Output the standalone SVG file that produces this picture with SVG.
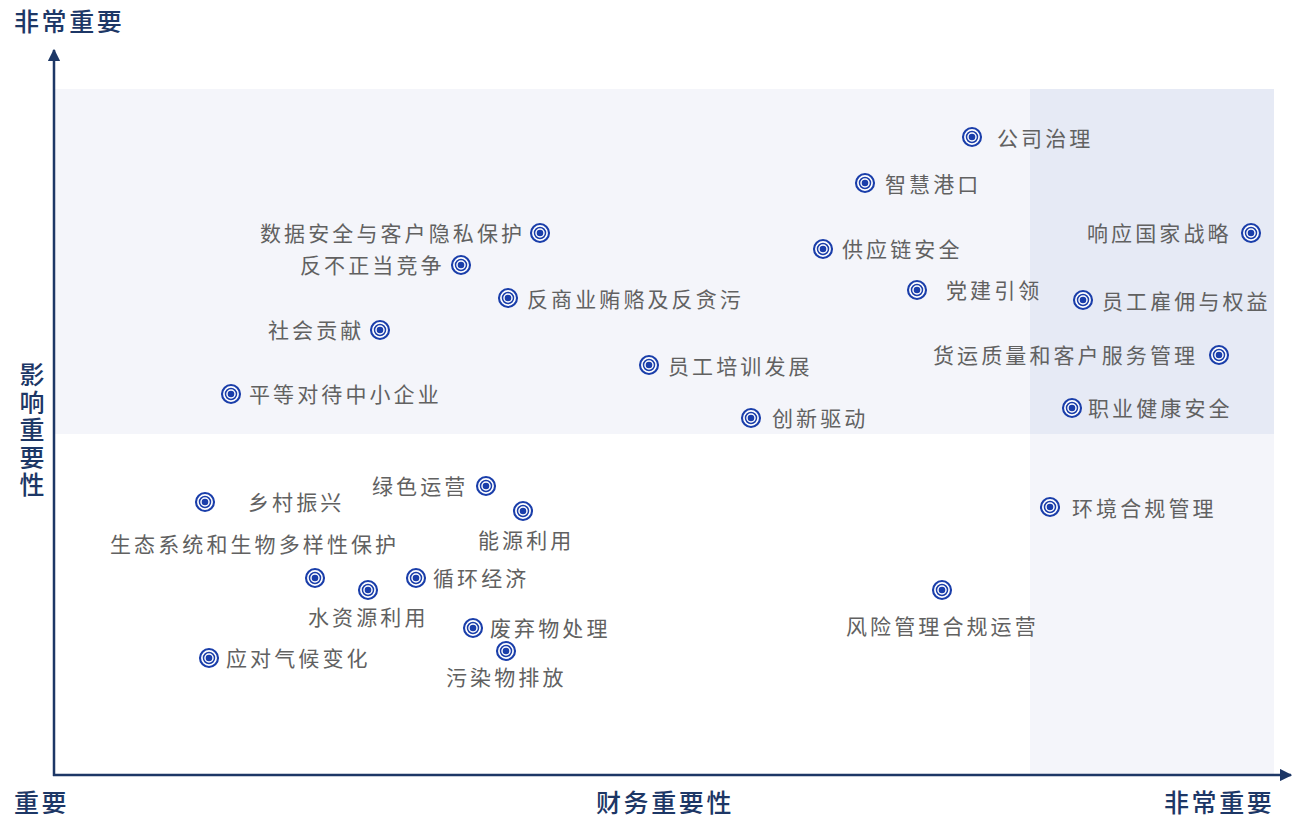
<svg xmlns="http://www.w3.org/2000/svg" xmlns:xlink="http://www.w3.org/1999/xlink" width="1293" height="819" viewBox="0 0 1293 819">
<style>
.lb{font-family:"Noto Sans CJK SC","Noto Sans",sans-serif;font-size:21px;fill:#616161;letter-spacing:3.1px}
.ax{font-family:"Noto Sans CJK SC","Noto Sans",sans-serif;font-size:25px;font-weight:500;fill:#1d3766;letter-spacing:2.6px}
.axis{stroke:#1d3766;stroke-width:2.5;fill:none}
</style>
<defs>
<g id="m">
<circle r="9" fill="#fff" stroke="#1a3eaa" stroke-width="2.1"/>
<circle r="5.5" fill="none" stroke="#1a3eaa" stroke-width="1.5"/>
<circle r="3.3" fill="#1a3eaa"/>
</g>
<marker id="ah" viewBox="0 0 10 10" refX="9" refY="5" markerWidth="5" markerHeight="5" orient="auto" markerUnits="strokeWidth">
<path d="M0,0 L10,5 L0,10 z" fill="#1d3766"/>
</marker>
</defs>
<rect width="1293" height="819" fill="#fff"/>
<g id="bg">
<rect x="55" y="89" width="975" height="345" fill="#f4f5fa"/>
<rect x="1030" y="89" width="244" height="345" fill="#e6eaf5"/>
<rect x="1030" y="434" width="244" height="341" fill="#f4f5fa"/>
</g>
<g id="connectors">
<line class="axis" x1="54" y1="776" x2="54" y2="50" marker-end="url(#ah)"/>
<line class="axis" x1="53" y1="775" x2="1291" y2="775" marker-end="url(#ah)"/>
</g>
<g id="axis-labels">
<text class="ax" x="14" y="31">非常重要</text>
<text class="ax" x="14" y="812">重要</text>
<text class="ax" x="596" y="812">财务重要性</text>
<text class="ax" x="1164" y="812">非常重要</text>
<text class="ax" x="32" y="362" style="writing-mode:vertical-rl">影响重要性</text>
</g>
<g id="n1"><use href="#m" x="972" y="137"/><text class="lb" x="997" y="146">公司治理</text></g>
<g id="n2"><use href="#m" x="865" y="183"/><text class="lb" x="885" y="192">智慧港口</text></g>
<g id="n3"><use href="#m" x="1251" y="233"/><text class="lb" x="1087" y="241">响应国家战略</text></g>
<g id="n4"><use href="#m" x="540" y="233"/><text class="lb" x="260" y="241">数据安全与客户隐私保护</text></g>
<g id="n5"><use href="#m" x="461" y="265"/><text class="lb" x="300" y="273">反不正当竞争</text></g>
<g id="n6"><use href="#m" x="823" y="249"/><text class="lb" x="842" y="257">供应链安全</text></g>
<g id="n7"><use href="#m" x="917" y="290"/><text class="lb" x="946" y="298">党建引领</text></g>
<g id="n8"><use href="#m" x="1083" y="300"/><text class="lb" x="1102" y="309">员工雇佣与权益</text></g>
<g id="n9"><use href="#m" x="508" y="298"/><text class="lb" x="527" y="307">反商业贿赂及反贪污</text></g>
<g id="n10"><use href="#m" x="380" y="330"/><text class="lb" x="268" y="338">社会贡献</text></g>
<g id="n11"><use href="#m" x="649" y="365"/><text class="lb" x="668" y="374">员工培训发展</text></g>
<g id="n12"><use href="#m" x="1219" y="355"/><text class="lb" x="933" y="363">货运质量和客户服务管理</text></g>
<g id="n13"><use href="#m" x="231" y="394"/><text class="lb" x="249" y="402">平等对待中小企业</text></g>
<g id="n14"><use href="#m" x="751" y="418"/><text class="lb" x="772" y="426">创新驱动</text></g>
<g id="n15"><use href="#m" x="1072" y="408"/><text class="lb" x="1088" y="416">职业健康安全</text></g>
<g id="n16"><use href="#m" x="486" y="486"/><text class="lb" x="372" y="494">绿色运营</text></g>
<g id="n17"><use href="#m" x="205" y="502"/><text class="lb" x="248" y="510">乡村振兴</text></g>
<g id="n18"><use href="#m" x="523" y="511"/><text class="lb" x="478" y="548">能源利用</text></g>
<g id="n19"><use href="#m" x="315" y="578"/><text class="lb" x="110" y="552">生态系统和生物多样性保护</text></g>
<g id="n20"><use href="#m" x="416" y="578"/><text class="lb" x="433" y="586">循环经济</text></g>
<g id="n21"><use href="#m" x="368" y="590"/><text class="lb" x="308" y="625">水资源利用</text></g>
<g id="n22"><use href="#m" x="1050" y="507"/><text class="lb" x="1072" y="516">环境合规管理</text></g>
<g id="n23"><use href="#m" x="942" y="590"/><text class="lb" x="846" y="634">风险管理合规运营</text></g>
<g id="n24"><use href="#m" x="473" y="628"/><text class="lb" x="490" y="636">废弃物处理</text></g>
<g id="n25"><use href="#m" x="209" y="658"/><text class="lb" x="226" y="666">应对气候变化</text></g>
<g id="n26"><use href="#m" x="506" y="651"/><text class="lb" x="446" y="685">污染物排放</text></g>
</svg>
